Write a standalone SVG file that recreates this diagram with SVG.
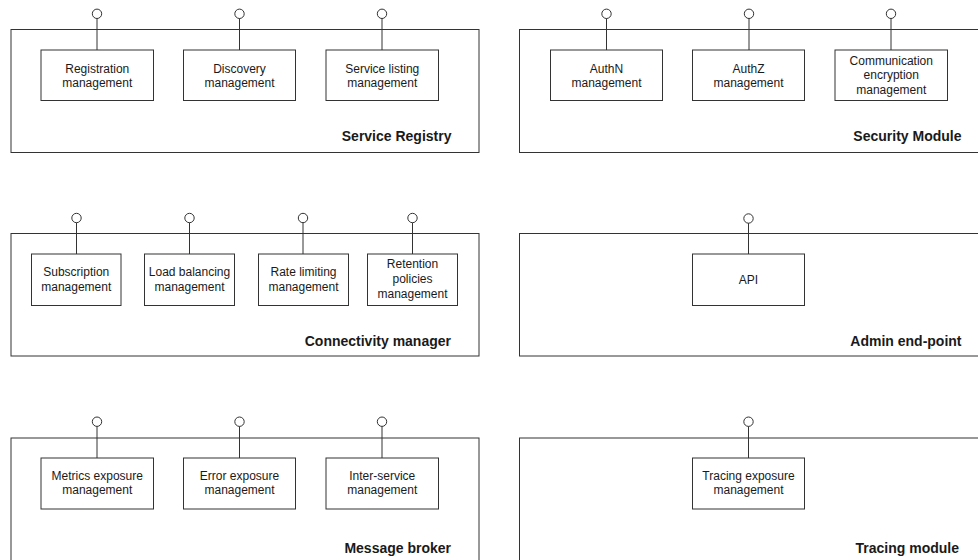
<svg xmlns="http://www.w3.org/2000/svg" width="978" height="560" viewBox="0 0 978 560">
  <style>
    .frame { fill: #ffffff; stroke: #333333; stroke-width: 1; }
    .comp { fill: #ffffff; stroke: #333333; stroke-width: 1; }
    .stem { stroke: #333333; stroke-width: 1; fill: none; marker-end: url(#lollipop); }
    .t { font-family: "Liberation Sans", Arial, Helvetica, sans-serif; font-size: 12px; fill: #1a1a1a; text-anchor: middle; }
    .title { font-family: "Liberation Sans", Arial, Helvetica, sans-serif; font-size: 14px; font-weight: bold; fill: #1a1a1a; text-anchor: end; }
  </style>
  <defs>
    <!-- provided-interface "lollipop" end -->
    <marker id="lollipop" viewBox="-6 -6 12 12" markerWidth="12" markerHeight="12" refX="0" refY="0" markerUnits="userSpaceOnUse" orient="0">
      <circle cx="0" cy="0" r="4.7" fill="#ffffff" stroke="#333333" stroke-width="1"/>
    </marker>
  </defs>

  <rect width="978" height="560" fill="#ffffff"/>

  <!-- Service Registry -->
  <g id="service-registry">
    <rect class="frame" x="11" y="29.5" width="468" height="123"/>
    <text class="title" x="451.5" y="141">Service Registry</text>
  </g>
  <g id="registration-management">
    <rect class="comp" x="41" y="50" width="112.5" height="50.5"/>
    <text class="t" x="97.25" y="72.5">Registration</text>
    <text class="t" x="97.25" y="87">management</text>
  </g>
  <g id="discovery-management">
    <rect class="comp" x="183.5" y="50" width="112" height="50.5"/>
    <text class="t" x="239.5" y="72.5">Discovery</text>
    <text class="t" x="239.5" y="87">management</text>
  </g>
  <g id="service-listing-management">
    <rect class="comp" x="326" y="50" width="112.5" height="50.5"/>
    <text class="t" x="382.25" y="72.5">Service listing</text>
    <text class="t" x="382.25" y="87">management</text>
  </g>

  <!-- Security Module -->
  <g id="security-module">
    <rect class="frame" x="519.5" y="29.5" width="470" height="123"/>
    <text class="title" x="961.5" y="141">Security Module</text>
  </g>
  <g id="authn-management">
    <rect class="comp" x="550.5" y="50" width="112" height="50.5"/>
    <text class="t" x="606.5" y="72.5">AuthN</text>
    <text class="t" x="606.5" y="87">management</text>
  </g>
  <g id="authz-management">
    <rect class="comp" x="692.5" y="50" width="112" height="50.5"/>
    <text class="t" x="748.5" y="72.5">AuthZ</text>
    <text class="t" x="748.5" y="87">management</text>
  </g>
  <g id="communication-encryption-management">
    <rect class="comp" x="835" y="50" width="112.5" height="50.5"/>
    <text class="t" x="891.25" y="64.5">Communication</text>
    <text class="t" x="891.25" y="79">encryption</text>
    <text class="t" x="891.25" y="93.5">management</text>
  </g>

  <!-- Connectivity manager -->
  <g id="connectivity-manager">
    <rect class="frame" x="11" y="233.5" width="468" height="122.5"/>
    <text class="title" x="451" y="345.5">Connectivity manager</text>
  </g>
  <g id="subscription-management">
    <rect class="comp" x="31.5" y="254" width="89.5" height="51.5"/>
    <text class="t" x="76.25" y="276">Subscription</text>
    <text class="t" x="76.25" y="290.5">management</text>
  </g>
  <g id="load-balancing-management">
    <rect class="comp" x="144.5" y="254" width="90" height="51.5"/>
    <text class="t" x="189.5" y="276">Load balancing</text>
    <text class="t" x="189.5" y="290.5">management</text>
  </g>
  <g id="rate-limiting-management">
    <rect class="comp" x="258.5" y="254" width="90" height="51.5"/>
    <text class="t" x="303.5" y="276">Rate limiting</text>
    <text class="t" x="303.5" y="290.5">management</text>
  </g>
  <g id="retention-policies-management">
    <rect class="comp" x="367.5" y="254" width="90" height="51.5"/>
    <text class="t" x="412.5" y="268.3">Retention</text>
    <text class="t" x="412.5" y="283">policies</text>
    <text class="t" x="412.5" y="297.5">management</text>
  </g>

  <!-- Admin end-point -->
  <g id="admin-end-point">
    <rect class="frame" x="519.5" y="233.5" width="470" height="122.5"/>
    <text class="title" x="961.5" y="345.5">Admin end-point</text>
  </g>
  <g id="api">
    <rect class="comp" x="692.5" y="254" width="112" height="51.5"/>
    <text class="t" x="748.5" y="284">API</text>
  </g>

  <!-- Message broker -->
  <g id="message-broker">
    <rect class="frame" x="11" y="438" width="468" height="140"/>
    <text class="title" x="451" y="553.3">Message broker</text>
  </g>
  <g id="metrics-exposure-management">
    <rect class="comp" x="41" y="458" width="112.5" height="51"/>
    <text class="t" x="97.25" y="479.5">Metrics exposure</text>
    <text class="t" x="97.25" y="494">management</text>
  </g>
  <g id="error-exposure-management">
    <rect class="comp" x="183.5" y="458" width="112" height="51"/>
    <text class="t" x="239.5" y="479.5">Error exposure</text>
    <text class="t" x="239.5" y="494">management</text>
  </g>
  <g id="inter-service-management">
    <rect class="comp" x="326" y="458" width="112.5" height="51"/>
    <text class="t" x="382.25" y="479.5">Inter-service</text>
    <text class="t" x="382.25" y="494">management</text>
  </g>

  <!-- Tracing module -->
  <g id="tracing-module">
    <rect class="frame" x="519.5" y="438" width="470" height="140"/>
    <text class="title" x="959" y="553.3">Tracing module</text>
  </g>
  <g id="tracing-exposure-management">
    <rect class="comp" x="692.5" y="458" width="112" height="51"/>
    <text class="t" x="748.5" y="479.5">Tracing exposure</text>
    <text class="t" x="748.5" y="494">management</text>
  </g>

  <!-- interface stems: from each component up to its exposed interface -->
  <g id="connectors">
    <line class="stem" x1="97" y1="50" x2="97" y2="13.8"/>
    <line class="stem" x1="239.5" y1="50" x2="239.5" y2="13.8"/>
    <line class="stem" x1="382" y1="50" x2="382" y2="13.8"/>
    <line class="stem" x1="606.5" y1="50" x2="606.5" y2="13.8"/>
    <line class="stem" x1="749" y1="50" x2="749" y2="13.8"/>
    <line class="stem" x1="891" y1="50" x2="891" y2="13.8"/>

    <line class="stem" x1="76.5" y1="254" x2="76.5" y2="218"/>
    <line class="stem" x1="189.5" y1="254" x2="189.5" y2="218"/>
    <line class="stem" x1="303" y1="254" x2="303" y2="218"/>
    <line class="stem" x1="412.5" y1="254" x2="412.5" y2="218"/>
    <line class="stem" x1="748.5" y1="254" x2="748.5" y2="218.5"/>

    <line class="stem" x1="97" y1="458" x2="97" y2="421.7"/>
    <line class="stem" x1="239.5" y1="458" x2="239.5" y2="421.7"/>
    <line class="stem" x1="382" y1="458" x2="382" y2="421.7"/>
    <line class="stem" x1="748.5" y1="458" x2="748.5" y2="421.7"/>
  </g>
</svg>
